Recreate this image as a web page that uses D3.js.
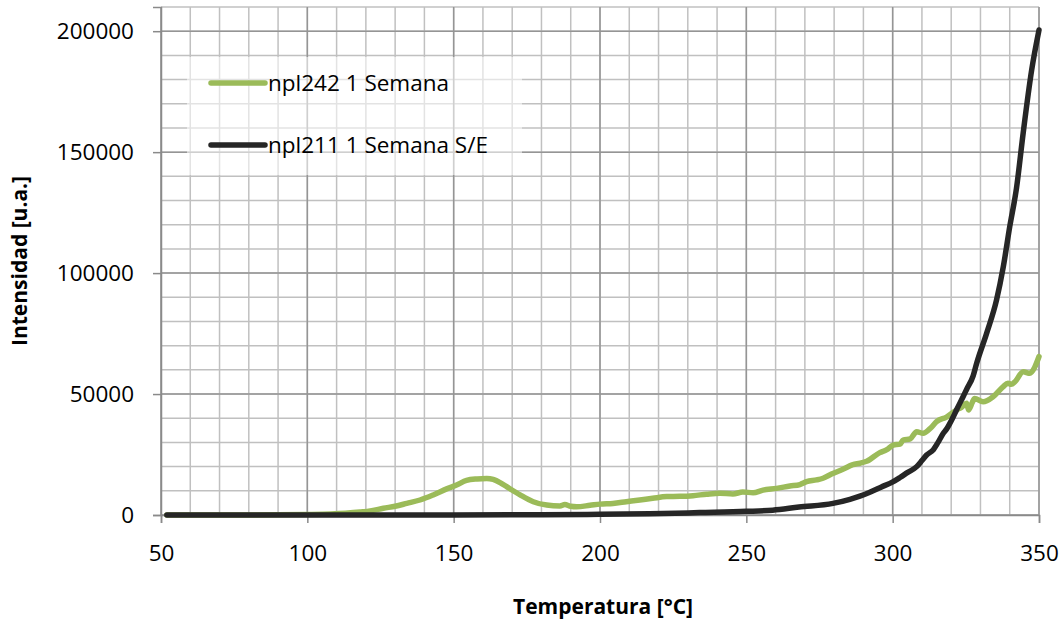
<!DOCTYPE html>
<html>
<head>
<meta charset="utf-8">
<script src="https://cdn.jsdelivr.net/npm/d3@7"></script>
<style>
  html, body { margin: 0; padding: 0; background: #fff; }
  svg { display: block; font-family: "Open Sans", "Liberation Sans", sans-serif; }
</style>
</head>
<body>
<svg id="chart" width="1063" height="624"></svg>
<script>
// Temperature [°C] vs. intensity [u.a.] for the two samples
const npl242 = [
  [52,0],[60,0],[70,0],[80,0],[90,100],[100,200],[108,400],[113,700],[118,1200],
  [122,1800],[126,2800],[130,3600],[134,4800],[138.5,6200],[143,8300],[147.6,10800],
  [151,12400],[154.4,14300],[158,14900],[161.3,15100],[163.5,14700],[166,13300],
  [168.1,11700],[172.7,8300],[177.2,5500],[181.8,4100],[186.3,3700],[188,4300],
  [190,3600],[192,3400],[196.6,4000],[200,4500],[204.4,4800],[209,5500],[213.6,6200],
  [218,6900],[222.8,7600],[227.3,7700],[231.8,8000],[236.4,8600],[241,9000],
  [245.4,8700],[248.8,9500],[252.3,9200],[255.7,10300],[260.3,11000],[264.9,12000],
  [268.3,12600],[270.6,13800],[274,14500],[276.2,15200],[279.1,16900],[283,18900],
  [286.4,20800],[288.8,21400],[291.1,22200],[295.6,25800],[298,27000],[300.2,28900],
  [302.5,29300],[303.6,31000],[306,31500],[308.2,34400],[310.4,33800],[313,36000],
  [315,38600],[318.4,40500],[321.8,43400],[323.5,44500],[325.3,46200],[325.9,43400],
  [327.2,46500],[328,48200],[330.9,46800],[334.3,48900],[337.7,53000],[339.4,54500],
  [340.5,54000],[341.8,55100],[344.6,59200],[346.9,58600],[348.5,61000],[350,65500]
];

const npl211 = [
  [52,0],[100,0],[150,0],[180,100],[200,300],[217,500],[234,1000],[250,1500],
  [259,2000],[268,3300],[279.6,4800],[285.4,6500],[288.8,7800],[292,9300],
  [296,11500],[300.2,13800],[302.5,15500],[305,17500],[308.2,20000],[310,22500],
  [311.6,24800],[313.9,27000],[315.5,30000],[317.3,33800],[318.4,35500],
  [320.7,40600],[321.8,43400],[324.1,49000],[325.3,52000],[327.5,57500],
  [328.7,62700],[332.1,75100],[335.5,88900],[337.8,102600],[340,119200],
  [342.3,135000],[344.6,158000],[347.5,184000],[350,200500]
];

const seriesNames = ["npl242 1 Semana", "npl211 1 Semana S/E"];
const seriesColors = ["#9BBB59", "#262626"];

const xTicks = [50, 100, 150, 200, 250, 300, 350];
const yTicks = [0, 50000, 100000, 150000, 200000];
const xMinor = d3.range(50, 351, 10);
const yMinor = d3.range(0, 210001, 10000);

const svg = d3.select("#chart");

const x = d3.scaleLinear().domain([50, 350]).range([161, 1039]);
const y = d3.scaleLinear().domain([0, 210000]).range([515, 7]);

// minor grid
const grid = svg.append("g");
grid.selectAll("line.vminor").data(xMinor).join("line")
  .attr("x1", d => x(d)).attr("x2", d => x(d))
  .attr("y1", y(210000)).attr("y2", y(0))
  .attr("stroke", "#c0c0c0").attr("stroke-width", 1.5);
grid.selectAll("line.hminor").data(yMinor).join("line")
  .attr("x1", x(50)).attr("x2", x(350))
  .attr("y1", d => y(d)).attr("y2", d => y(d))
  .attr("stroke", "#c0c0c0").attr("stroke-width", 1.5);

// major grid
grid.selectAll("line.vmajor").data(xTicks).join("line")
  .attr("x1", d => x(d)).attr("x2", d => x(d))
  .attr("y1", y(210000)).attr("y2", y(0))
  .attr("stroke", "#959595").attr("stroke-width", 1.5);
grid.selectAll("line.hmajor").data(yTicks).join("line")
  .attr("x1", x(50)).attr("x2", x(350))
  .attr("y1", d => y(d)).attr("y2", d => y(d))
  .attr("stroke", "#959595").attr("stroke-width", 1.5);

// axes
const xAxis = d3.axisBottom(x).tickValues(xTicks).tickSize(8).tickPadding(22)
  .tickFormat(d3.format("d"));
const gx = svg.append("g").attr("transform", `translate(0,${y(0)})`).call(xAxis);
gx.select(".domain").attr("stroke", "#8a8a8a").attr("stroke-width", 1.5);
gx.selectAll(".tick line").attr("stroke", "#8a8a8a").attr("stroke-width", 1.5);
gx.selectAll(".tick text").attr("font-size", "22.5px").attr("fill", "#000")
  .attr("font-family", "Open Sans");

const yAxis = d3.axisLeft(y).tickValues(yTicks).tickSize(8).tickPadding(19)
  .tickFormat(d3.format("d"));
const gy = svg.append("g").attr("transform", `translate(${x(50)},0)`).call(yAxis);
gy.select(".domain").attr("stroke", "#8a8a8a").attr("stroke-width", 1.5);
gy.selectAll(".tick line").attr("stroke", "#8a8a8a").attr("stroke-width", 1.5);
gy.selectAll(".tick text").attr("font-size", "22.5px").attr("fill", "#000")
  .attr("font-family", "Open Sans");

// axis titles
svg.append("text")
  .attr("x", 603).attr("y", 614)
  .attr("text-anchor", "middle")
  .attr("font-size", "21px").attr("font-weight", "bold")
  .text("Temperatura [°C]");
svg.append("text")
  .attr("transform", `translate(27,${(y(0) + y(210000)) / 2}) rotate(-90)`)
  .attr("text-anchor", "middle")
  .attr("font-size", "21px").attr("font-weight", "bold")
  .text("Intensidad [u.a.]");

// series
const line = d3.line().curve(d3.curveMonotoneX).x(d => x(d[0])).y(d => y(d[1]));
[npl242, npl211].forEach((s, i) => {
  svg.append("path")
    .datum(s)
    .attr("d", line)
    .attr("fill", "none")
    .attr("stroke", seriesColors[i])
    .attr("stroke-width", 5.5)
    .attr("stroke-linejoin", "round")
    .attr("stroke-linecap", "round");
});

// legend
const legend = svg.append("g");
legend.append("rect")
  .attr("x", 187).attr("y", 57).attr("width", 335).attr("height", 118)
  .attr("fill", "#fff").attr("fill-opacity", 0.55);
const legendY = [83, 145];
seriesNames.forEach((name, i) => {
  legend.append("line")
    .attr("x1", 211).attr("x2", 265)
    .attr("y1", legendY[i]).attr("y2", legendY[i])
    .attr("stroke", seriesColors[i]).attr("stroke-width", 5.5)
    .attr("stroke-linecap", "round");
  legend.append("text")
    .attr("x", 268).attr("y", legendY[i] + 8)
    .attr("font-size", "22.5px").attr("fill", "#000")
    .text(name);
});
</script>
</body>
</html>
